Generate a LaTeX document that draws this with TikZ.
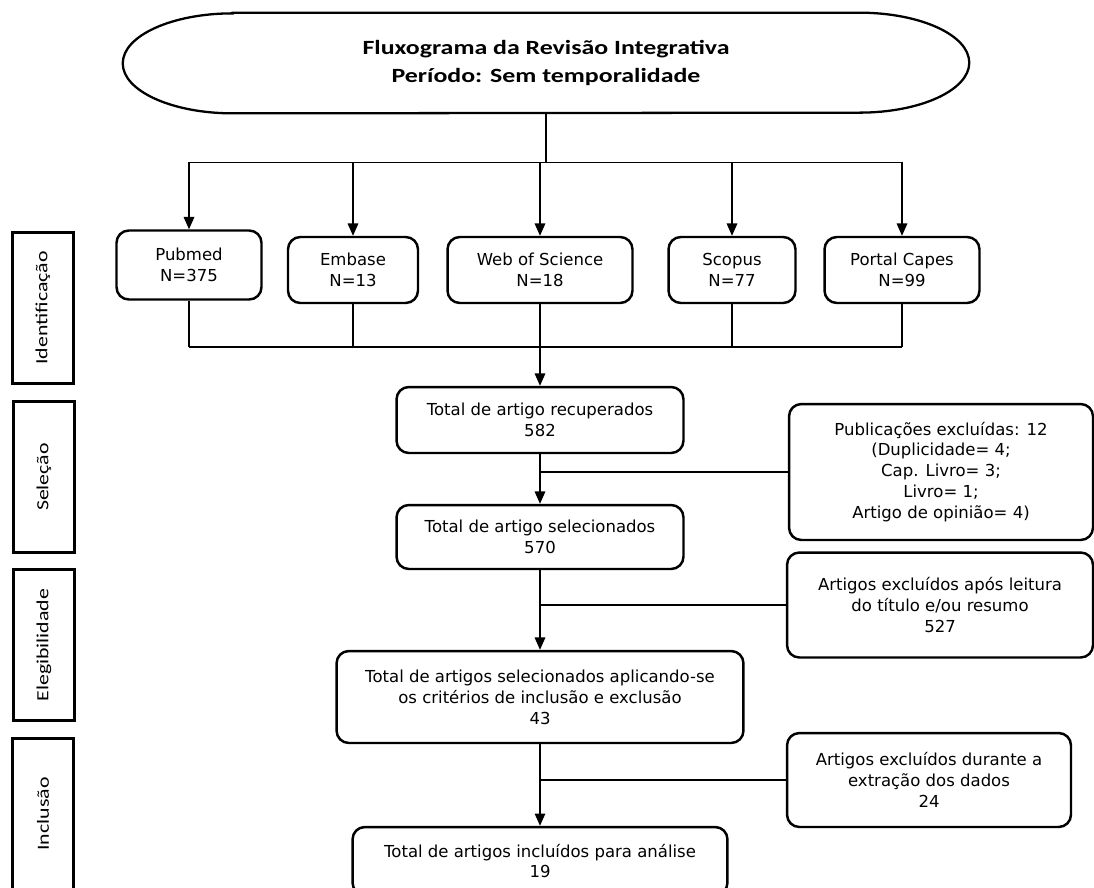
\documentclass[tikz,border=0pt]{standalone}
\usepackage{fontspec}
\setmainfont{DejaVu Sans}
\newfontfamily\calib[FakeStretch=1.28]{Carlito}
\usetikzlibrary{arrows.meta}

\begin{document}
\begin{tikzpicture}[x=0.02cm,y=-0.02cm,
	box/.style={draw,rounded corners=7pt,line width=1.4pt,align=center,inner sep=0pt,font=\fontsize{9.4}{11.9}\selectfont},
	stage/.style={draw,line width=1.6pt,rotate=90,inner sep=0pt,minimum width=3.02cm,minimum height=1.22cm,font=\calib\fontsize{9.7}{11}\selectfont},
	link/.style={line width=0.8pt},
	arr/.style={link,-{Triangle[length=7pt,width=6pt]}}]
\useasboundingbox (0,0) rectangle (1094,887);

% title
\node[minimum width=16.92cm,minimum height=2cm,align=center,font=\calib\bfseries\fontsize{11.5}{15.9}\selectfont] (title) at (546,63) {Fluxograma da Revis\~ao Integrativa\\Per\'iodo: Sem temporalidade};
\draw[line width=1.3pt] ([xshift=2.2cm]title.north west) -- ([xshift=-2.2cm]title.north east)
	arc[start angle=90,end angle=-90,x radius=2.2cm,y radius=1cm]
	-- ([xshift=2.2cm]title.south west)
	arc[start angle=270,end angle=90,x radius=2.2cm,y radius=1cm] -- cycle;

% stages
\node[stage] (ident) at (43,308) {Identifica\c{c}\~ao};
\node[stage] (selecao) at (44,477) {Sele\c{c}\~ao};
\node[stage] (eleg) at (44,645) {Elegibilidade};
\node[stage] (incl) at (43,814) {Inclus\~ao};

% databases
\node[box,minimum width=2.9cm,minimum height=1.38cm] (pubmed) at (189,265) {Pubmed\\N=375};
\node[box,minimum width=2.6cm,minimum height=1.32cm] (embase) at (353,270) {Embase\\N=13};
\node[box,minimum width=3.7cm,minimum height=1.32cm] (wos) at (540,270) {Web of Science\\N=18};
\node[box,minimum width=2.54cm,minimum height=1.32cm] (scopus) at (732,270) {Scopus\\N=77};
\node[box,minimum width=3.1cm,minimum height=1.32cm] (portal) at (902,270) {Portal Capes\\N=99};

% main flow
\node[box,minimum width=5.74cm,minimum height=1.32cm] (recup) at (540,420) {Total de artigo recuperados\\582};
\node[box,minimum width=5.74cm,minimum height=1.28cm] (selec) at (540,537) {Total de artigo selecionados\\570};
\node[box,minimum width=8.14cm,minimum height=1.84cm] (aplic) at (540,697) {Total de artigos selecionados aplicando-se\\os crit\'erios de inclus\~ao e exclus\~ao\\43};
\node[box,minimum width=7.5cm,minimum height=1.36cm] (final) at (540,861) {Total de artigos inclu\'idos para an\'alise\\19};

% exclusions
\node[box,minimum width=6.08cm,minimum height=2.72cm] (publ) at (941,472) {Publica\c{c}\~oes exclu\'idas: 12\\(Duplicidade= 4;\\Cap. Livro= 3;\\Livro= 1;\\Artigo de opini\~ao= 4)};
\node[box,minimum width=6.12cm,minimum height=2.1cm] (apos) at (940,605) {Artigos exclu\'idos ap\'os leitura\\do t\'itulo e/ou resumo\\527};
\node[box,minimum width=5.68cm,minimum height=1.88cm] (durante) at (929,780) {Artigos exclu\'idos durante a\\extra\c{c}\~ao dos dados\\24};

% connectors
\draw[link] (title.south) -- ++(0,49) coordinate (split);
\draw[link] (split -| pubmed) -- (split -| portal);
\foreach \n in {pubmed,embase,wos,scopus,portal}
	\draw[arr] (split -| \n) -- (\n.north);
\coordinate (merge) at (540,347);
\foreach \n in {pubmed,embase,scopus,portal}
	\draw[link] (\n.south) -- (merge -| \n);
\draw[link] (merge -| pubmed) -- (merge -| portal);
\draw[arr] (wos.south) -- (recup.north);
\draw[arr] (recup) -- (selec);
\draw[arr] (selec) -- (aplic);
\draw[arr] (aplic) -- (final);
\draw[link] (publ.west) -- (publ.west -| recup);
\draw[link] (apos.west) -- (apos.west -| selec);
\draw[link] (durante.west) -- (durante.west -| aplic);
\end{tikzpicture}
\end{document}
